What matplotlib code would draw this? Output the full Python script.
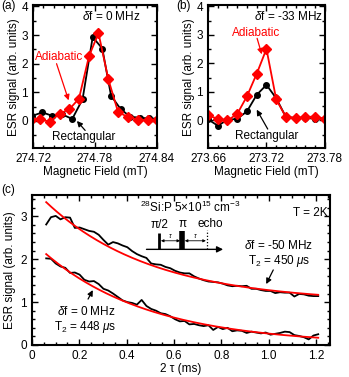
import numpy as np
import matplotlib
matplotlib.use("Agg")
import matplotlib.pyplot as plt
from matplotlib.ticker import MultipleLocator

plt.rcParams['font.family'] = ['Liberation Sans', 'DejaVu Sans']
plt.rcParams['font.size'] = 8.5
plt.rcParams['mathtext.fontset'] = 'custom'
plt.rcParams['mathtext.rm'] = 'Liberation Sans'
plt.rcParams['mathtext.it'] = 'Liberation Sans:italic'

# panel (a): detuning 0 MHz
a_rect_B = [274.7194, 274.7291, 274.7385, 274.7482, 274.7580, 274.7680, 274.7778,
            274.7871, 274.7956, 274.8050, 274.8141, 274.8238, 274.8323, 274.8410]
a_rect_S = [0.18, 0.30, 0.18, 0.23, 0.07, 0.76, 2.93, 2.53, 0.88, 0.41, 0.15, 0.11, 0.09, 0.08]
a_adia_B = [274.7178, 274.7270, 274.7362, 274.7460, 274.7552, 274.7645, 274.7742,
            274.7834, 274.7930, 274.8024, 274.8118, 274.8213, 274.8309, 274.8403]
a_adia_S = [0.05, 0.06, -0.03, 0.26, 0.41, 0.78, 2.26, 3.07, 1.45, 0.31, 0.14, 0.05, 0.02, 0.02]
a_ticks = [274.72, 274.78, 274.84]

# panel (b): detuning -33 MHz
b_B = [273.66, 273.67, 273.68, 273.69, 273.70, 273.71, 273.72,
       273.73, 273.74, 273.75, 273.76, 273.77, 273.78]
b_rect_S = [0.04, -0.18, 0.02, 0.06, 0.32, 0.90, 1.25, 0.78, 0.12, 0.09, 0.09, 0.06, 0.06]
b_adia_S = [0.18, 0.06, 0.00, 0.23, 0.85, 1.64, 2.51, 0.74, 0.12, 0.09, 0.12, 0.14, 0.06]
b_ticks = [273.66, 273.72, 273.78]

# panel (c): echo decay vs 2tau (ms)
t_start, t_stop, n_t = 0.06, 1.21, 58
echo_m50 = [2.81, 2.98, 3.01, 2.93, 2.98, 2.97, 2.73, 2.74, 2.70, 2.66,
            2.64, 2.57, 2.45, 2.34, 2.40, 2.37, 2.32, 2.28, 2.19, 2.12,
            2.07, 2.03, 1.90, 1.88, 1.87, 1.82, 1.79, 1.73, 1.69, 1.67,
            1.67, 1.60, 1.55, 1.51, 1.48, 1.47, 1.46, 1.43, 1.39, 1.37,
            1.38, 1.37, 1.38, 1.31, 1.31, 1.28, 1.26, 1.26, 1.21, 1.23,
            1.22, 1.22, 1.13, 1.19, 1.18, 1.15, 1.14, 1.14]
echo_0 = [2.02, 2.01, 1.90, 1.83, 1.80, 1.68, 1.69, 1.64, 1.52, 1.48,
          1.49, 1.42, 1.31, 1.27, 1.20, 1.12, 1.04, 1.00, 0.98, 0.94,
          1.05, 0.91, 0.84, 0.80, 0.74, 0.72, 0.67, 0.60, 0.55, 0.56,
          0.48, 0.49, 0.46, 0.44, 0.46, 0.35, 0.42, 0.37, 0.40, 0.32,
          0.34, 0.33, 0.28, 0.31, 0.29, 0.27, 0.29, 0.24, 0.26, 0.28,
          0.31, 0.30, 0.23, 0.21, 0.18, 0.13, 0.22, 0.25]
# exponential fits: A*exp(-2tau/T2) + C
fit_m50 = (2.677, 0.450, 0.988)
fit_0 = (2.416, 0.448, 0.006)
c_ticks = [0, 0.2, 0.4, 0.6, 0.8, 1.0, 1.2]
c_labels = ['0', '0.2', '0.4', '0.6', '0.8', '1.0', '1.2']

RED = '#ff0000'


def style(ax, xmin, ymaj, ymin):
    ax.xaxis.set_minor_locator(MultipleLocator(xmin))
    ax.yaxis.set_major_locator(MultipleLocator(ymaj))
    ax.yaxis.set_minor_locator(MultipleLocator(ymin))
    ax.tick_params(which='both', direction='in', top=True, right=True, width=1.0)
    ax.tick_params(which='major', length=4)
    ax.tick_params(which='minor', length=2.5)
    for s in ax.spines.values():
        s.set_linewidth(1.5)


def arrow(ax, tip, tail, color='black'):
    ax.annotate('', xy=tip, xytext=tail,
                arrowprops=dict(arrowstyle='-|>', color=color, lw=0.9,
                                mutation_scale=8, shrinkA=0, shrinkB=0))


fig = plt.figure(figsize=(3.49, 3.77), dpi=100)
ax_a = fig.add_axes([0.0946, 0.607, 0.355, 0.379])
ax_b = fig.add_axes([0.596, 0.607, 0.335, 0.379])
ax_c = fig.add_axes([0.0917, 0.085, 0.854, 0.398])

# (a)
ax_a.plot(a_rect_B, a_rect_S, '-o', color='black', ms=4, lw=1.3)
ax_a.plot(a_adia_B, a_adia_S, '-D', color=RED, ms=5, lw=1.3)
ax_a.set_xlim(274.72, 274.84)
ax_a.set_ylim(-0.95, 4.04)
ax_a.set_xticks(a_ticks)
ax_a.set_xticklabels(['%.2f' % v for v in a_ticks])
style(ax_a, 0.01, 1, 0.5)
ax_a.set_xlabel('Magnetic Field (mT)', labelpad=1)
ax_a.set_ylabel('ESR signal (arb. units)', labelpad=1)
ax_a.text(274.8238, 3.65, r'$\delta$f = 0 MHz', ha='right', va='center')
ax_a.text(274.7453, 2.24, 'Adiabatic', color=RED, ha='center', va='center')
arrow(ax_a, (274.7545, 0.72), (274.7428, 2.0), RED)
ax_a.text(274.7695, -0.57, 'Rectangular', ha='center', va='center')
arrow(ax_a, (274.7625, 0.0), (274.7705, -0.33))

# (b)
ax_b.plot(b_B, b_rect_S, '-o', color='black', ms=4, lw=1.3)
ax_b.plot(b_B, b_adia_S, '-D', color=RED, ms=5, lw=1.3)
ax_b.set_xlim(273.66, 273.78)
ax_b.set_ylim(-0.97, 4.04)
ax_b.set_xticks(b_ticks)
ax_b.set_xticklabels(['%.2f' % v for v in b_ticks])
style(ax_b, 0.01, 1, 0.5)
ax_b.set_xlabel('Magnetic Field (mT)', labelpad=1)
ax_b.set_ylabel('ESR signal (arb. units)', labelpad=1)
ax_b.text(273.778, 3.65, r'$\delta$f = -33 MHz', ha='right', va='center')
ax_b.text(273.709, 3.08, 'Adiabatic', color=RED, ha='center', va='center')
arrow(ax_b, (273.7152, 2.32), (273.7104, 2.88), RED)
ax_b.text(273.72, -0.53, 'Rectangular', ha='center', va='center')
arrow(ax_b, (273.7100, 0.38), (273.7213, -0.3))

# (c)
t = np.linspace(t_start, t_stop, n_t)
ax_c.plot(t, echo_m50, color='black', lw=1.3)
ax_c.plot(t, echo_0, color='black', lw=1.3)
tf = np.linspace(t_start, t_stop, 200)
for A, T2, C in (fit_m50, fit_0):
    ax_c.plot(tf, A * np.exp(-tf / T2) + C, color=RED, lw=1.3)
ax_c.set_xlim(0, 1.26)
ax_c.set_ylim(0, 3.5)
ax_c.set_xticks(c_ticks)
ax_c.set_xticklabels(c_labels)
style(ax_c, 0.05, 1, 0.2)
ax_c.set_xlabel('2 τ (ms)', labelpad=1)
ax_c.set_ylabel('ESR signal (arb. units)', labelpad=3)

ax_c.text(0.67, 3.21, r'$^{28}$Si:P 5$\times$10$^{15}$ cm$^{-3}$', ha='center', va='center')
ax_c.text(1.175, 3.07, 'T = 2K', ha='center', va='center')
ax_c.text(1.04, 2.33, r'$\delta$f = -50 MHz', ha='center', va='center')
ax_c.text(1.046, 1.97, r'T$_2$ = 450 $\mu$s', ha='center', va='center')
arrow(ax_c, (0.99, 1.42), (1.02, 1.75))
ax_c.text(0.229, 0.78, r'$\delta$f = 0 MHz', ha='center', va='center')
ax_c.text(0.225, 0.42, r'T$_2$ = 448 $\mu$s', ha='center', va='center')
arrow(ax_c, (0.257, 1.28), (0.237, 1.07))

# pulse sequence sketch
y0 = 2.23
ax_c.annotate('', xy=(0.808, y0), xytext=(0.484, y0),
              arrowprops=dict(arrowstyle='-|>', color='black', lw=1.0,
                              mutation_scale=9, shrinkA=0, shrinkB=0))
ax_c.plot([0.537, 0.537], [y0, 2.60], color='black', lw=2.0, solid_capstyle='butt')
ax_c.plot([0.636, 0.636], [y0, 2.66], color='black', lw=4.0, solid_capstyle='butt')
ax_c.plot([0.74, 0.74], [y0, 2.67], color='black', lw=0.9, ls=(0, (1, 1.5)))
for xa, xb in ((0.545, 0.626), (0.646, 0.735)):
    ax_c.annotate('', xy=(xb, 2.43), xytext=(xa, 2.43),
                  arrowprops=dict(arrowstyle='<|-|>', color='black', lw=0.6,
                                  mutation_scale=4, shrinkA=0, shrinkB=0))
    ax_c.text((xa + xb) / 2, 2.53, 'τ', fontsize=5, ha='center', va='center', style='italic')
ax_c.text(0.54, 2.80, 'π/2', ha='center', va='center')
ax_c.text(0.636, 2.82, 'π', ha='center', va='center')
ax_c.text(0.755, 2.81, 'echo', ha='center', va='center')

fig.text(0.005, 0.983, '(a)', ha='left', va='center')
fig.text(0.505, 0.983, '(b)', ha='left', va='center')
fig.text(0.005, 0.497, '(c)', ha='left', va='center')

fig.savefig('out.png', dpi=100)
